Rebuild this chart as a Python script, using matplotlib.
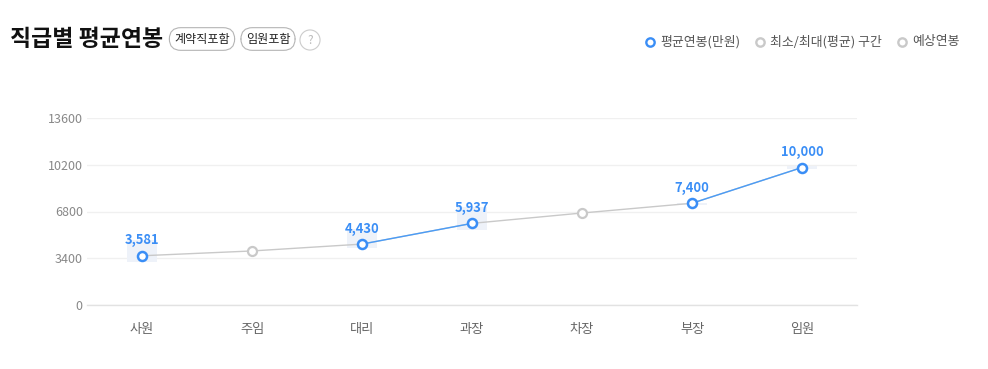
import matplotlib
matplotlib.use("Agg")
import matplotlib.pyplot as plt
from matplotlib.lines import Line2D
import numpy as np

plt.rcParams['font.family'] = ['Noto Sans CJK KR', 'DejaVu Sans']

categories = ['사원', '주임', '대리', '과장', '차장', '부장', '임원']
avg_salary = [3581, None, 4430, 5937, None, 7400, 10000]
expected_salary = [3581, 3930, 4430, 5937, 6690, 7400, 10000]
range_min = [3130, None, 4150, 5450, None, 7300, 9920]
range_max = [4720, None, 5530, 7130, None, 7450, 10080]
yticks = [0, 3400, 6800, 10200, 13600]

W, H = 988, 369
fig = plt.figure(figsize=(W / 100, H / 100), dpi=100)
fig.patch.set_facecolor('white')

def fx(px):
    return px / W

def fy(py):
    return 1 - py / H

ax = fig.add_axes([fx(87), fy(305), fx(857) - fx(87), fy(118) - fy(305)])
x = np.arange(len(categories))

BLUE = '#3a8ef6'
BLUE_LINE = '#4a9cf7'
GREY = '#c9c9c9'

# min/max range boxes
for i, (lo, hi) in enumerate(zip(range_min, range_max)):
    if lo is not None:
        ax.bar(x[i], hi - lo, bottom=lo, width=0.27, color='#eef2f9', zorder=1)

# grey expected line through all points
ax.plot(x, expected_salary, color=GREY, lw=1.0, zorder=2)

# blue segments between consecutive actual values
avg_arr = np.array([np.nan if v is None else v for v in avg_salary], dtype=float)
ax.plot(x, avg_arr, color=BLUE_LINE, lw=1.0, zorder=3)

# markers
est_idx = [i for i, v in enumerate(avg_salary) if v is None]
act_idx = [i for i, v in enumerate(avg_salary) if v is not None]
ax.plot(x[est_idx], [expected_salary[i] for i in est_idx], 'o', ms=6.5,
        mfc='white', mec=GREY, mew=1.6, zorder=4, ls='none')
ax.plot(x[act_idx], [avg_salary[i] for i in act_idx], 'o', ms=6.5,
        mfc='white', mec=BLUE, mew=1.8, zorder=5, ls='none')

for i in act_idx:
    ax.annotate(f"{avg_salary[i]:,}", (x[i], avg_salary[i]), xytext=(0, 11),
                textcoords='offset points', ha='center', va='center',
                color=BLUE, fontsize=9.3, fontweight='bold', zorder=6)

ax.set_xlim(-0.5, len(categories) - 0.5)
ax.set_ylim(0, 13600)
ax.set_yticks(yticks)
ax.set_yticklabels([str(t) for t in yticks])
ax.set_xticks(x)
ax.set_xticklabels(categories)
ax.tick_params(axis='y', length=0, pad=3, labelsize=9, labelcolor='#888888')
ax.tick_params(axis='x', length=0, pad=13, labelsize=9.5, labelcolor='#666666')
ax.grid(axis='y', color='#f0f0f0', lw=1.0, zorder=0)
ax.set_axisbelow(True)
for s in ['top', 'right', 'left']:
    ax.spines[s].set_visible(False)
ax.spines['bottom'].set_color('#e2e2e2')
ax.spines['bottom'].set_linewidth(1.0)

# title
fig.text(fx(10), fy(39), '직급별 평균연봉', fontsize=16.5, fontweight='bold',
         color='#111111', ha='left', va='center')

pill = dict(boxstyle='round,pad=0.4,rounding_size=0.95', fc='white', ec='#b5b5b5', lw=0.8)
fig.text(fx(202), fy(39), '계약직포함', fontsize=8.7, color='#222222', ha='center',
         va='center', bbox=pill)
fig.text(fx(268), fy(39), '임원포함', fontsize=8.7, color='#222222', ha='center',
         va='center', bbox=pill)
fig.text(fx(310), fy(40), '?', fontsize=8.5, color='#bbbbbb', ha='center', va='center',
         bbox=dict(boxstyle='circle,pad=0.3', fc='white', ec='#cccccc', lw=0.8))

# legend
leg_items = [(650, '평균연봉(만원)', BLUE), (760, '최소/최대(평균) 구간', GREY),
             (902, '예상연봉', GREY)]
for px, label, col in leg_items:
    fig.add_artist(Line2D([fx(px)], [fy(42)], marker='o', ms=6, mfc='white',
                          mec=col, mew=1.7, transform=fig.transFigure, ls='none'))
    fig.text(fx(px + 10), fy(42), label, fontsize=9.3, color='#555555',
             ha='left', va='center')

fig.savefig('out.png', dpi=100, facecolor='white')
